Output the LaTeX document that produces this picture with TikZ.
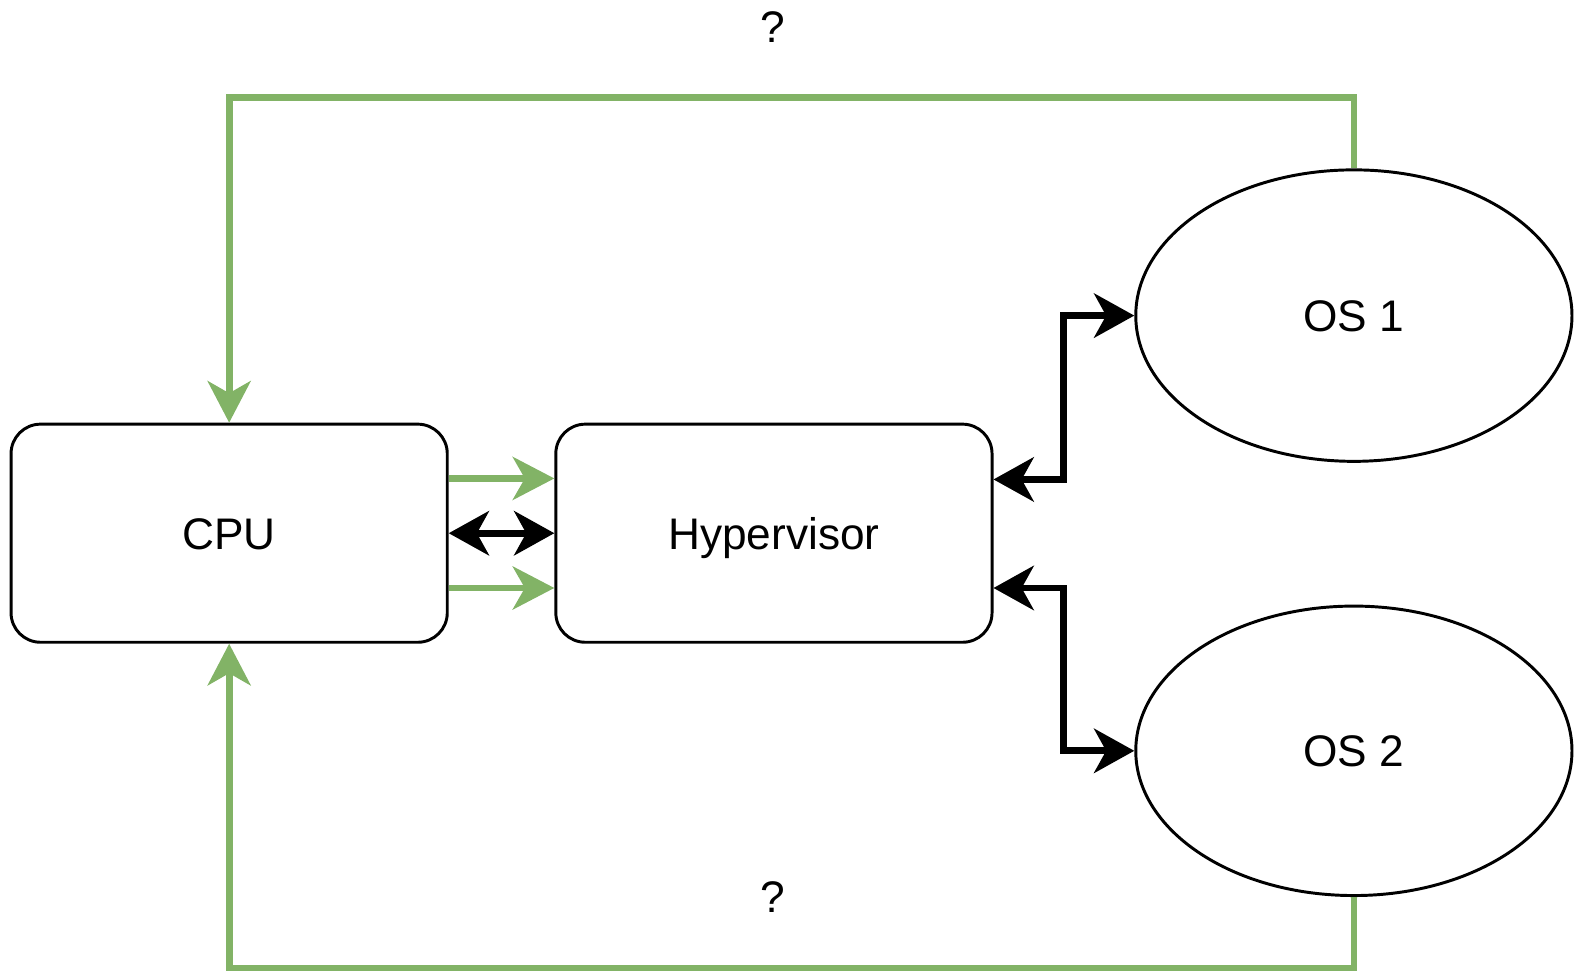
\documentclass[tikz,border=0pt]{standalone}
\usepackage{fontspec}
\setmainfont{Liberation Sans}
\usetikzlibrary{arrows.meta,shapes.geometric}
\definecolor{dgreen}{HTML}{82B366}
\begin{document}
\begin{tikzpicture}[x=0.75pt,y=-0.75pt,
  box/.style={draw=black,line width=2.2pt,rounded corners=22pt,minimum width=434*0.75pt,minimum height=217*0.75pt,inner sep=0pt,font=\fontsize{33}{40}\selectfont,text height=29.7pt,text depth=5.9pt},
  oval/.style={draw=black,line width=2.2pt,ellipse,minimum width=434*0.75pt,minimum height=290*0.75pt,inner sep=0pt,font=\fontsize{33}{40}\selectfont,text height=29.7pt,text depth=5.9pt},
  lbl/.style={font=\fontsize{33}{40}\selectfont,inner sep=0pt},
  tipg/.style={-{Stealth[length=31pt,width=32pt,inset=9pt]}},
  gline/.style={draw=dgreen,line width=5pt},
  bline/.style={draw=black,line width=5pt},
  tipb/.style={{Stealth[length=30pt,width=33pt,inset=9pt]}-{Stealth[length=30pt,width=33pt,inset=9pt]}},
]
\useasboundingbox (0,0) rectangle (1568,968);
\node[box] (cpu) at (228,530.5) {CPU};
\node[box] (hyp) at (770,530.5) {Hypervisor};
\node[oval] (os1) at (1347,314) {OS 1};
\node[oval,minimum height=288*0.75pt] (os2) at (1347,747) {OS 2};
\node[lbl] (q1) at (769,27) {?};
\node[lbl] (q2) at (769,892) {?};
% green loops
\draw[gline,tipg] (os1.north) |- (228,97) -- (cpu.north);
\draw[gline,tipg] (os2.south) |- (228,963) -- (cpu.south);
% cpu to hyp
\coordinate (c1) at (cpu.east |- 0,476);
\coordinate (h1) at (hyp.west |- 0,476);
\coordinate (c2) at (cpu.east |- 0,585);
\coordinate (h2) at (hyp.west |- 0,585);
\draw[gline,tipg] (c1) -- (h1);
\draw[gline,tipg] (c2) -- (h2);
\draw[bline,tipb] (cpu.east) -- (hyp.west);
% hyp to OS
\coordinate (h3) at (hyp.east |- 0,477);
\coordinate (h4) at (hyp.east |- 0,585);
\draw[bline,tipb] (h3) -- (1058,477) |- (os1.west);
\draw[bline,tipb] (h4) -- (1058,585) |- (os2.west);
\end{tikzpicture}
\end{document}
